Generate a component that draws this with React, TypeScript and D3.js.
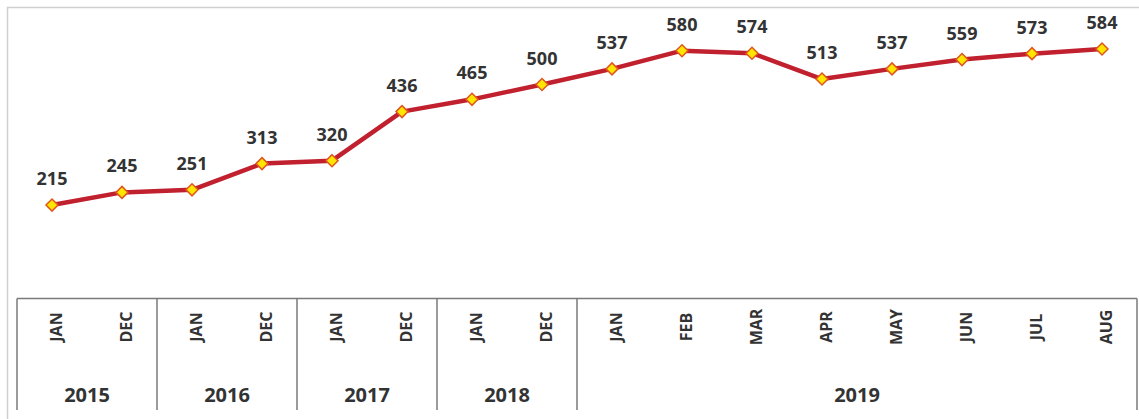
import React from "react";
import * as d3 from "d3";

const months = ["JAN", "DEC", "JAN", "DEC", "JAN", "DEC", "JAN", "DEC", "JAN", "FEB", "MAR", "APR", "MAY", "JUN", "JUL", "AUG"];
const years = ["2015", "2016", "2017", "2018", "2019"];
const yearSpans = [2, 2, 2, 2, 8];
const values = [215, 245, 251, 313, 320, 436, 465, 500, 537, 580, 574, 513, 537, 559, 573, 584];

export default function App() {
  const W = 1139, H = 419;
  const idx = values.map((_, i) => i);
  const axisL = 17, axisR = 1137, axisY = 298.5, axisBottom = 410;
  const band = d3.scaleBand<number>().domain(idx).range([axisL, axisR]);
  const bw = band.bandwidth();
  const cx = (i: number) => band(i)! + bw / 2;
  const y = d3.scaleLinear().domain([0, 584]).range([296, 49]);
  const line = d3.line<number>().x((_, i) => cx(i)).y((d) => y(d));
  const font = "'Open Sans', 'Noto Sans', sans-serif";

  const seps: number[] = [axisL];
  const yearCenters: number[] = [];
  let acc = 0;
  yearSpans.forEach((s) => {
    const start = band(acc)!;
    acc += s;
    const end = band(acc - 1)! + bw;
    seps.push(end);
    yearCenters.push((start + end) / 2);
  });

  const r = 6;
  const diamond = `M0,${-r}L${r},0L0,${r}L${-r},0Z`;

  return (
    <svg width={W} height={H} style={{ position: "absolute", left: 0, top: 0 }}>
      <rect x={7.5} y={7.5} width={1140} height={430} fill="white" stroke="#d0d0d0" strokeWidth={1.5} />
      <line x1={axisL} x2={axisR} y1={axisY} y2={axisY} stroke="#7a7a7a" strokeWidth={1.5} />
      {seps.map((s, i) => (
        <line key={i} x1={s} x2={s} y1={axisY} y2={axisBottom} stroke="#7a7a7a" strokeWidth={1.5} />
      ))}
      {months.map((m, i) => (
        <text
          key={i}
          transform={`translate(${cx(i) + 10},327) rotate(-90)`}
          textAnchor="middle"
          fontFamily={font}
          fontWeight="bold"
          fontSize={16}
          fill="#333"
        >
          {m}
        </text>
      ))}
      {years.map((yr, i) => (
        <text key={yr} x={yearCenters[i]} y={402} textAnchor="middle" fontFamily={font} fontWeight="bold" fontSize={20} fill="#333">
          {yr}
        </text>
      ))}
      <path d={line(values)!} fill="none" stroke="#c1202e" strokeWidth={4.5} strokeLinejoin="round" />
      {values.map((v, i) => (
        <g key={i}>
          <path d={diamond} transform={`translate(${cx(i)},${y(v)})`} fill="#ffe500" stroke="#e0561f" strokeWidth={1.5} />
          <text x={cx(i)} y={y(v) - 20} textAnchor="middle" fontFamily={font} fontWeight="bold" fontSize={18} fill="#333">
            {v}
          </text>
        </g>
      ))}
    </svg>
  );
}
